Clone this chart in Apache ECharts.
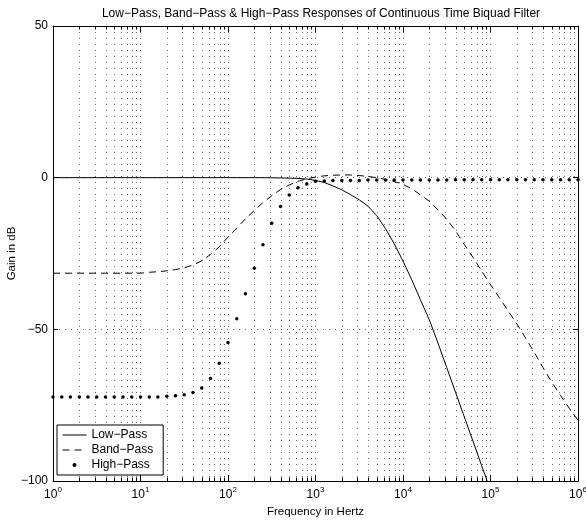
<!DOCTYPE html>
<html>
<head>
<meta charset="utf-8">
<title>Biquad filter responses</title>
<script src="https://cdn.jsdelivr.net/npm/echarts@6/dist/echarts.min.js"></script>
<style>
  html, body { margin: 0; padding: 0; background: #fff; }
  #chart { width: 586px; height: 521px; }
</style>
</head>
<body>
<div id="chart"></div>
<script>
// sample frequencies, 10 per decade
const freqHz = [
  1, 1.26, 1.58, 2, 2.51, 3.16, 3.98, 5.01, 6.31, 7.94,
  10, 12.6, 15.8, 20, 25.1, 31.6, 39.8, 50.1, 63.1, 79.4,
  100, 126, 158, 200, 251, 316, 398, 501, 631, 794,
  1000, 1260, 1580, 2000, 2510, 3160, 3980, 5010, 6310, 7940,
  10000, 12600, 15800, 20000, 25100, 31600, 39800, 50100, 63100, 79400,
  100000, 126000, 158000, 200000, 251000, 316000, 398000, 501000, 631000, 794000,
  1000000
];

// gain in dB
const lowPass = [
  0, 0, 0, 0, 0, 0, 0, 0, 0, 0,
  0, 0, 0, 0, 0, 0, 0, 0, 0, 0,
  0, 0, 0, 0, 0, -0.05, -0.1, -0.15, -0.25, -0.45,
  -0.9, -1.6, -2.7, -4.0, -5.6, -7.3, -9.4, -12.5, -16.8, -21.8,
  -27.5, -33.7, -40.2, -46.9, -54.5, -62.6, -70.7, -78.8, -86.9, -95.0,
  -103.1, null, null, null, null, null, null, null, null, null,
  null
];
const bandPass = [
  -31.5, -31.5, -31.5, -31.5, -31.5, -31.5, -31.5, -31.5, -31.5, -31.5,
  -31.5, -31.2, -31.0, -30.7, -30.3, -29.7, -28.8, -27.4, -25.3, -22.8,
  -19.6, -16.6, -13.6, -10.8, -8.2, -6.0, -3.9, -2.4, -1.2, -0.4,
  0.2, 0.6, 0.8, 0.9, 0.9, 0.7, 0.4, 0, -0.6, -1.3,
  -2.2, -3.7, -5.6, -7.8, -10.6, -13.7, -17.5, -22.0, -26.3, -30.8,
  -35.3, -39.5, -43.8, -48.2, -52.8, -57.6, -62.6, -67.4, -71.8, -76.0,
  -80.0
];
const highPass = [
  -72.3, -72.3, -72.3, -72.3, -72.3, -72.3, -72.3, -72.3, -72.3, -72.3,
  -72.3, -72.3, -72.3, -72.1, -71.9, -71.6, -70.8, -69.3, -66.2, -61.2,
  -54.3, -46.5, -38.3, -29.9, -22.1, -15.0, -9.5, -5.7, -3.3, -2.1,
  -1.2, -1.1, -0.9, -0.9, -0.9, -0.9, -0.8, -0.8, -0.8, -0.8,
  -0.8, -0.8, -0.8, -0.8, -0.8, -0.8, -0.7, -0.7, -0.7, -0.7,
  -0.7, -0.7, -0.7, -0.7, -0.7, -0.7, -0.7, -0.7, -0.7, -0.7,
  -0.7
];

// minor grid positions of the log axis
const minorFreqs = [
  2, 3, 4, 5, 6, 7, 8, 9,
  20, 30, 40, 50, 60, 70, 80, 90,
  200, 300, 400, 500, 600, 700, 800, 900,
  2000, 3000, 4000, 5000, 6000, 7000, 8000, 9000,
  20000, 30000, 40000, 50000, 60000, 70000, 80000, 90000,
  200000, 300000, 400000, 500000, 600000, 700000, 800000, 900000
];

const gainMin = -100;
const gainMax = 50;
const gainStep = 50;

const font = "'Liberation Sans', Arial, Helvetica, sans-serif";
const gridColor = "#666";
const gridDash = [1, 5];
const names = ["Low\u2212Pass", "Band\u2212Pass", "High\u2212Pass"];

function pairs(vals) {
  return freqHz.map((f, i) => [f, vals[i]]);
}

function minusSign(v) {
  return String(v).replace("-", "\u2212");
}

function drawMinorGrid(params, api) {
  const top = api.coord([api.value(0), gainMax]);
  const bottom = api.coord([api.value(0), gainMin]);
  const x = Math.round(top[0]) + 0.5;
  return {
    type: "group",
    children: [
      {
        type: "line",
        shape: { x1: x, y1: top[1], x2: x, y2: bottom[1] },
        style: { stroke: gridColor, lineWidth: 1, lineDash: gridDash },
      },
      {
        type: "line",
        shape: { x1: x, y1: bottom[1], x2: x, y2: bottom[1] - 3.5 },
        style: { stroke: "#000", lineWidth: 1 },
      },
      {
        type: "line",
        shape: { x1: x, y1: top[1], x2: x, y2: top[1] + 3.5 },
        style: { stroke: "#000", lineWidth: 1 },
      },
    ],
  };
}

const myChart = echarts.init(document.getElementById("chart"));

const logAxis = {
  type: "log",
  logBase: 10,
  min: 1,
  max: 1000000,
  splitNumber: 6,
  axisLine: { onZero: false, lineStyle: { color: "#000", width: 1 } },
  axisTick: { inside: true, length: 6, lineStyle: { color: "#000" } },
};

const gainAxis = {
  type: "value",
  min: gainMin,
  max: gainMax,
  interval: gainStep,
  axisLine: { show: true, onZero: false, lineStyle: { color: "#000", width: 1 } },
  axisTick: { show: true, inside: true, length: 5, lineStyle: { color: "#000" } },
};

myChart.setOption({
  animation: false,
  backgroundColor: "#fff",
  textStyle: { fontFamily: font },
  title: {
    text: "Low\u2212Pass, Band\u2212Pass & High\u2212Pass Responses of Continuous Time Biquad Filter",
    left: 316,
    top: 3,
    textAlign: "center",
    textStyle: { fontFamily: font, fontSize: 12, fontWeight: "normal", color: "#000" },
  },
  grid: { left: 53, right: 8, top: 26, bottom: 40, containLabel: false, outerBoundsMode: "none" },
  legend: {
    orient: "vertical",
    left: 57,
    top: 425,
    data: [
      { name: names[0], itemStyle: { opacity: 0 } },
      { name: names[1], itemStyle: { opacity: 0 } },
      { name: names[2], lineStyle: { opacity: 0 } },
    ],
    itemWidth: 24,
    itemHeight: 5,
    itemGap: 3,
    padding: [4, 10, 4, 5],
    backgroundColor: "#fff",
    borderColor: "#000",
    borderWidth: 1,
    borderRadius: 0,
    selectedMode: false,
    lineStyle: { width: 1 },
    textStyle: { fontFamily: font, fontSize: 12, color: "#000" },
  },
  xAxis: [
    Object.assign({}, logAxis, {
      position: "bottom",
      name: "Frequency in Hertz",
      nameLocation: "middle",
      nameGap: 25,
      nameMoveOverlap: false,
      nameTextStyle: { fontFamily: font, fontSize: 11.5, color: "#000" },
      axisLabel: {
        margin: 5,
        color: "#000",
        formatter: (v) => "{b|10}{s|" + Math.round(Math.log10(v)) + "}",
        rich: {
          b: { fontFamily: font, fontSize: 12, lineHeight: 18, color: "#000" },
          s: { fontFamily: font, fontSize: 8, lineHeight: 9, verticalAlign: "top", color: "#000" },
        },
      },
      splitLine: { show: true, lineStyle: { color: gridColor, width: 1, type: gridDash } },
    }),
    Object.assign({}, logAxis, {
      position: "top",
      axisLabel: { show: false },
      splitLine: { show: false },
    }),
  ],
  yAxis: [
    Object.assign({}, gainAxis, {
      position: "left",
      name: "Gain in dB",
      nameLocation: "middle",
      nameGap: 35,
      nameMoveOverlap: false,
      nameTextStyle: { fontFamily: font, fontSize: 11.5, color: "#000" },
      axisLabel: { margin: 5, fontFamily: font, fontSize: 12, color: "#000", formatter: minusSign },
      splitLine: { show: true, lineStyle: { color: gridColor, width: 1, type: gridDash } },
    }),
    Object.assign({}, gainAxis, {
      position: "right",
      axisLabel: { show: false },
      splitLine: { show: false },
    }),
  ],
  series: [
    {
      type: "custom",
      silent: true,
      z: 1,
      renderItem: drawMinorGrid,
      data: minorFreqs.map((f) => [f, 0]),
      encode: { x: 0, y: 1 },
    },
    {
      name: names[0],
      type: "line",
      data: pairs(lowPass),
      symbol: "none",
      clip: true,
      lineStyle: { color: "#000", width: 1 },
      itemStyle: { color: "#000" },
      z: 3,
    },
    {
      name: names[1],
      type: "line",
      data: pairs(bandPass),
      symbol: "none",
      clip: true,
      lineStyle: { color: "#000", width: 1, type: [7, 5] },
      itemStyle: { color: "#000" },
      z: 3,
    },
    {
      name: names[2],
      type: "line",
      data: pairs(highPass),
      symbol: "circle",
      symbolSize: 3.5,
      showSymbol: true,
      showAllSymbol: true,
      clip: true,
      lineStyle: { width: 0, opacity: 0 },
      itemStyle: { color: "#000" },
      z: 3,
    },
  ],
});
</script>
</body>
</html>
